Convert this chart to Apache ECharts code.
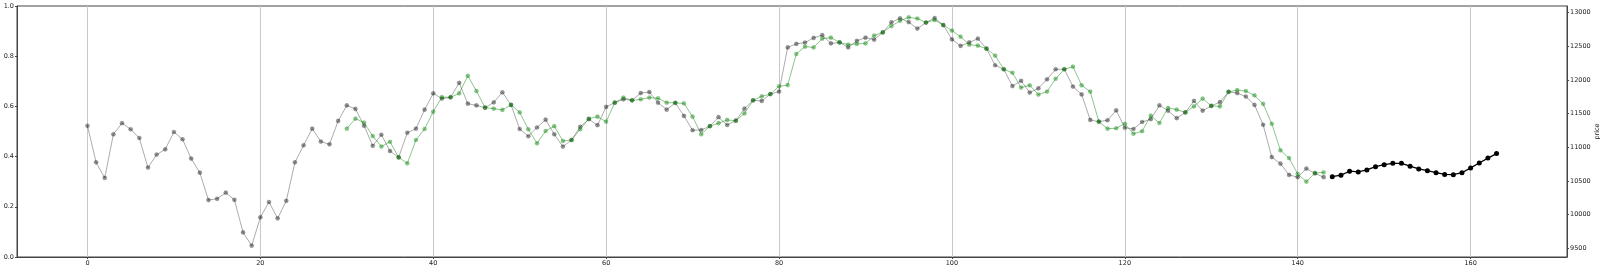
<!DOCTYPE html>
<html>
<head>
<meta charset="utf-8">
<script src="https://cdn.jsdelivr.net/npm/echarts@6/dist/echarts.min.js"></script>
<style>
html,body{margin:0;padding:0;background:#fff;}
#c{width:1600px;height:271px;}
</style>
</head>
<body>
<div id="c"></div>
<script>
// x positions: gray history starts at 0, green fit starts at 30, black forecast starts at 144
const grayStart = 0;
const greenStart = 30;
const blackStart = 144;

const grayValues = [
11321,10777,10546,11194,11359,11269,11139,10699,10892,10971,
11228,11120,10833,10624,10217,10236,10326,10221,9736,9539,
9960,10188,9945,10206,10777,11030,11277,11086,11045,11392,
11623,11571,11321,11023,11187,10945,10851,11217,11277,11560,
11802,11724,11743,11959,11649,11623,11590,11668,11817,11631,
11273,11165,11295,11411,11194,11012,11109,11306,11418,11329,
11601,11664,11713,11698,11806,11821,11664,11560,11661,11467,
11254,11258,11314,11448,11332,11396,11575,11698,11690,11791,
11828,12485,12537,12556,12626,12667,12544,12559,12485,12582,
12630,12600,12708,12858,12917,12861,12764,12854,12921,12817,
12604,12507,12559,12615,12466,12220,12160,11910,11989,11814,
11877,12011,12160,12160,11903,11787,11407,11381,11403,11549,
11291,11273,11377,11418,11623,11545,11433,11519,11690,11545,
11616,11672,11825,11806,11754,11631,11336,10855,10758,10590,
10557,10684,10613,10557
];

const greenValues = [
11277,11426,11366,11168,11012,11083,10851,10762,11109,11273,
11530,11746,11743,11802,12063,11836,11590,11575,11556,11631,
11519,11269,11060,11243,11314,11094,11109,11269,11426,11456,
11381,11664,11739,11698,11713,11739,11728,11664,11661,11653,
11456,11194,11314,11359,11407,11396,11504,11698,11758,11791,
11907,11925,12388,12496,12485,12615,12630,12559,12526,12537,
12544,12660,12708,12802,12880,12932,12914,12854,12891,12817,
12735,12645,12526,12511,12466,12362,12160,12108,11888,11922,
11784,11828,12019,12160,12198,11922,11828,11381,11277,11284,
11351,11202,11239,11470,11362,11586,11560,11519,11608,11724,
11616,11608,11825,11851,11836,11772,11646,11351,10956,10840,
10605,10490,10620,10628
];

const blackValues = [
10564,10587,10646,10635,10665,10713,10743,10762,10762,10721,
10680,10654,10624,10598,10594,10624,10695,10769,10840,10907
];

const xTicks = [0,20,40,60,80,100,120,140,160];
const leftTicks = [0,0.2,0.4,0.6,0.8,1.0];
const priceTicks = [9500,10000,10500,11000,11500,12000,12500,13000];

function pairs(start, vals){ return vals.map((v,i)=>[start+i, v]); }

const font = {fontFamily:'DejaVu Sans', fontSize:6.5, color:'#222'};

const chart = echarts.init(document.getElementById('c'), null, {renderer:'canvas'});
chart.setOption({
  animation:false,
  backgroundColor:'#fff',
  grid:{left:17,right:33,top:6,bottom:14,containLabel:false,outerBoundsMode:'none',
        show:true,borderColor:'#444',borderWidth:1,backgroundColor:'transparent'},
  xAxis:{
    type:'value', min:-8.15, max:171.15,
    axisLine:{show:true,onZero:false,lineStyle:{color:'#444',width:1}},
    axisTick:{show:true,length:2,customValues:xTicks,lineStyle:{color:'#444'}},
    axisLabel:Object.assign({customValues:xTicks,margin:3,formatter:v=>String(v)},font),
    splitLine:{show:true,lineStyle:{color:'#c8c8c8',width:1}}
  },
  yAxis:[
    {
      type:'value', min:0, max:1, position:'left',
      axisLine:{show:true,onZero:false,lineStyle:{color:'#444',width:1}},
      axisTick:{show:true,length:2,customValues:leftTicks,lineStyle:{color:'#444'}},
      axisLabel:Object.assign({customValues:leftTicks,margin:3,formatter:v=>v.toFixed(1)},font),
      splitLine:{show:false}
    },
    {
      type:'value', min:9371, max:13100, position:'right',
      name:'price', nameLocation:'middle', nameGap:27, nameRotate:90, nameMoveOverlap:false,
      nameTextStyle:{fontFamily:'DejaVu Sans',fontSize:6.5,color:'#222'},
      axisLine:{show:true,onZero:false,lineStyle:{color:'#444',width:1}},
      axisTick:{show:true,length:2,customValues:priceTicks,lineStyle:{color:'#444'}},
      axisLabel:Object.assign({customValues:priceTicks,margin:3,formatter:v=>String(v)},font),
      splitLine:{show:false}
    }
  ],
  series:[
    {
      type:'line', yAxisIndex:1, data:pairs(grayStart, grayValues),
      symbol:'circle', symbolSize:4.2,
      lineStyle:{color:'rgba(0,0,0,0.33)',width:1},
      itemStyle:{color:'rgba(0,0,0,0.42)',borderColor:'rgba(0,0,0,0.15)',borderWidth:0.8},
      z:2
    },
    {
      type:'line', yAxisIndex:1, data:pairs(greenStart, greenValues),
      symbol:'circle', symbolSize:4.2,
      lineStyle:{color:'rgba(0,128,0,0.45)',width:1},
      itemStyle:{color:'rgba(0,128,0,0.45)',borderColor:'rgba(0,128,0,0.15)',borderWidth:0.8},
      z:3
    },
    {
      type:'line', yAxisIndex:1, data:pairs(blackStart, blackValues),
      symbol:'circle', symbolSize:5,
      lineStyle:{color:'#000',width:1.2},
      itemStyle:{color:'#000'},
      z:4
    }
  ]
});
</script>
</body>
</html>
